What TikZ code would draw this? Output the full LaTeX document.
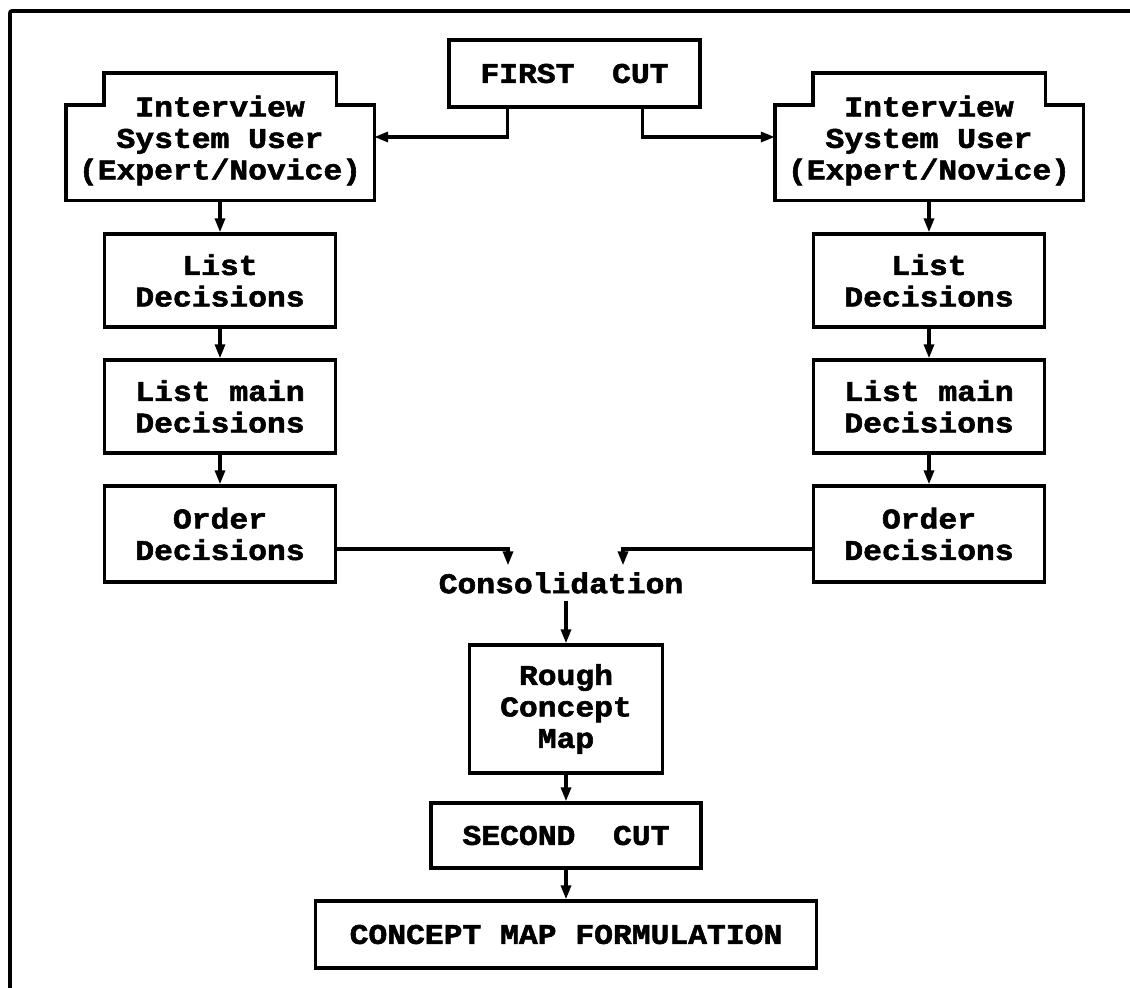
\documentclass[tikz,border=0pt]{standalone}
\usepackage{fontspec}
\newfontfamily\boxfont{Liberation Mono}[FakeStretch=1.1, FakeBold=2]
\usetikzlibrary{arrows.meta}

% box with a raised tab on top: the node spans the whole shape
\newcommand\drawtabbox[1]{%
  \draw[outline] (#1.south west) -- ([yshift=-24pt]#1.north west) -- ++(38,0)
    -- ([xshift=38pt,yshift=8pt]#1.north west) -- ([xshift=-38pt,yshift=8pt]#1.north east) -- ++(0,32)
    -- ([yshift=-24pt]#1.north east) -- (#1.south east) -- cycle;}

\begin{document}
\begin{tikzpicture}[x=1pt,y=-1pt,
  txt/.style={font=\boxfont\bfseries\fontsize{28.5}{31.5}\selectfont, align=center, inner sep=0pt},
  box/.style={txt, draw, line width=3.4pt},
  tabbox/.style={txt, minimum width=308pt, minimum height=119pt},
  outline/.style={line width=3.4pt, line join=miter},
  conn/.style={line width=3.2pt, -{Triangle[length=14pt,width=10pt]}},
  frame/.style={line width=3.8pt}]

\useasboundingbox (0,0) rectangle (1130,988);

% partial outer frame
\draw[frame, rounded corners=2pt] (10,988) -- (10,11) -- (1130,11);

% top of the diagram
\node[box, minimum width=251pt, minimum height=67pt] (fc) at (574.5,73.5) {FIRST~~CUT};

% left branch
\node[tabbox] (ivl) at (220,140.5) {Interview\\System User\\(Expert/Novice)};
\drawtabbox{ivl}
\node[box, minimum width=231pt, minimum height=93pt] (ldl) at (220,280.5) {List\\Decisions};
\node[box, minimum width=231pt, minimum height=93pt] (lml) at (220,406.5) {List main\\Decisions};
\node[box, minimum width=231pt, minimum height=96pt] (odl) at (220,534) {Order\\Decisions};

% right branch
\node[tabbox] (ivr) at (929,140.5) {Interview\\System User\\(Expert/Novice)};
\drawtabbox{ivr}
\node[box, minimum width=231pt, minimum height=93pt] (ldr) at (929,280.5) {List\\Decisions};
\node[box, minimum width=231pt, minimum height=93pt] (lmr) at (929,406.5) {List main\\Decisions};
\node[box, minimum width=231pt, minimum height=96pt] (odr) at (929,534) {Order\\Decisions};

% merging and final steps
\node[txt, inner ysep=7pt] (cons) at (561,583) {Consolidation};
\node[box, minimum width=193pt, minimum height=128pt] (rough) at (566,709) {Rough\\Concept\\Map};
\node[box, minimum width=270pt, minimum height=65pt] (sc) at (566,835.5) {SECOND~~CUT};
\node[box, minimum width=501pt, minimum height=67pt] (cmf) at (566,934.5) {CONCEPT MAP FORMULATION};

% connectors
\draw[conn] ([xshift=-67pt]fc.south) |- ([yshift=3.5pt]ivl.east);
\draw[conn] ([xshift=68pt]fc.south) |- ([yshift=3.5pt]ivr.west);
\draw[conn] (ivl.south) -- (ldl.north);
\draw[conn] (ldl.south) -- (lml.north);
\draw[conn] (lml.south) -- (odl.north);
\draw[conn] (ivr.south) -- (ldr.north);
\draw[conn] (ldr.south) -- (lmr.north);
\draw[conn] (lmr.south) -- (odr.north);
\draw[conn] ([yshift=-15pt]odl.east) -| ([xshift=-53pt]cons.north);
\draw[conn] ([yshift=-15pt]odr.west) -| ([xshift=62pt]cons.north);
\draw[conn] (rough.north |- cons.south) -- (rough.north);
\draw[conn] (rough.south) -- (sc.north);
\draw[conn] (sc.south) -- (cmf.north);
\end{tikzpicture}
\end{document}
